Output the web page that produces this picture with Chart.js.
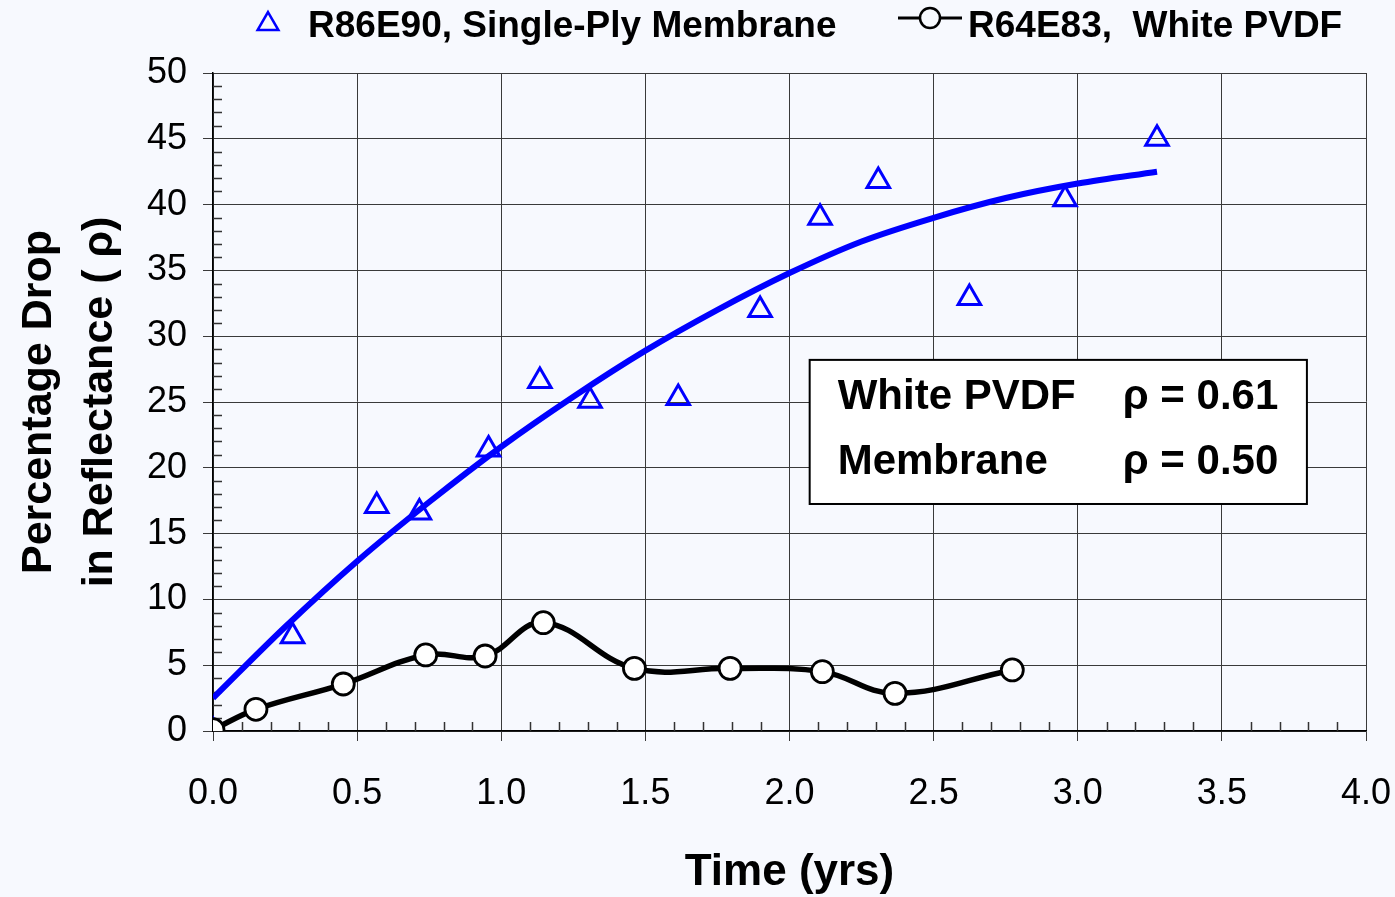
<!DOCTYPE html>
<html>
<head>
<meta charset="utf-8">
<title>Percentage Drop in Reflectance</title>
<script src="https://cdn.jsdelivr.net/npm/chart.js@4.4.1/dist/chart.umd.min.js"></script>
<style>
  html, body { margin: 0; padding: 0; background: #f7f9fe; }
  canvas { display: block; }
</style>
</head>
<body>
<canvas id="reflectance" width="1395" height="897"></canvas>
<script>
const FONT = "'Liberation Sans', Arial, Helvetica, sans-serif";

// R86E90 single-ply membrane (yrs, % drop)
const membraneYears = [0, 0.276, 0.568, 0.716, 0.956, 1.134, 1.308, 1.614, 1.898, 2.106, 2.308, 2.624, 2.956, 3.275];
const membraneDrop  = [0, 7.2, 17.1, 16.6, 21.4, 26.6, 25.1, 25.3, 32.0, 39.0, 41.8, 32.9, 40.4, 45.0];

// trend curve through the membrane readings
const fitYears = [0, 0.25, 0.5, 0.75, 1.0, 1.25, 1.5, 1.75, 2.0, 2.25, 2.5, 2.75, 3.0, 3.275];
const fitDrop  = [2.5, 7.9, 12.9, 17.4, 21.6, 25.4, 28.9, 32.0, 34.8, 37.2, 39.0, 40.5, 41.6, 42.5];

// R64E83 white PVDF
const pvdfYears = [0, 0.149, 0.452, 0.738, 0.944, 1.146, 1.462, 1.794, 2.114, 2.366, 2.773];
const pvdfDrop  = [0.1, 1.65, 3.57, 5.78, 5.70, 8.23, 4.76, 4.76, 4.51, 2.86, 4.64];

const xTicks = [0, 0.5, 1.0, 1.5, 2.0, 2.5, 3.0, 3.5, 4.0];
const yTicks = [0, 5, 10, 15, 20, 25, 30, 35, 40, 45, 50];

const legendNames = ['R86E90, Single-Ply Membrane', 'R64E83,  White PVDF'];
const boxRows = [['White PVDF', 'ρ = 0.61'], ['Membrane', 'ρ = 0.50']];

const toPoints = (xs, ys) => xs.map((x, i) => ({ x: x, y: ys[i] }));

// light page colour behind everything
const paper = {
  id: 'paper',
  beforeDraw(chart) {
    const ctx = chart.ctx;
    ctx.save();
    ctx.fillStyle = '#f7f9fe';
    ctx.fillRect(0, 0, chart.width, chart.height);
    ctx.restore();
  }
};

// small inward ticks: every 1 % on y, every 0.1 yr on x
const minorTicks = {
  id: 'minorTicks',
  beforeDatasetsDraw(chart) {
    const { ctx, chartArea: a, scales: { x, y } } = chart;
    ctx.save();
    ctx.strokeStyle = '#333';
    ctx.lineWidth = 1.5;
    ctx.beginPath();
    for (let v = 1; v < 50; v++) {
      if (v % 5 === 0) continue;
      const py = Math.round(y.getPixelForValue(v)) + 0.5;
      ctx.moveTo(a.left, py);
      ctx.lineTo(a.left + 9, py);
    }
    for (let k = 1; k < 40; k++) {
      if (k % 5 === 0) continue;
      const px = Math.round(x.getPixelForValue(k / 10)) + 0.5;
      ctx.moveTo(px, a.bottom);
      ctx.lineTo(px, a.bottom - 9);
    }
    ctx.stroke();
    ctx.restore();
  }
};

// correlation box inside the plot
const rhoBox = {
  id: 'rhoBox',
  afterDatasetsDraw(chart) {
    const { ctx, scales: { x, y } } = chart;
    const left = x.getPixelForValue(2.07), right = x.getPixelForValue(3.795);
    const top = y.getPixelForValue(28.2), bottom = y.getPixelForValue(17.25);
    ctx.save();
    ctx.fillStyle = '#ffffff';
    ctx.fillRect(left, top, right - left, bottom - top);
    ctx.strokeStyle = '#000';
    ctx.lineWidth = 2;
    ctx.strokeRect(left, top, right - left, bottom - top);
    ctx.fillStyle = '#000';
    ctx.font = 'bold 42px ' + FONT;
    ctx.textBaseline = 'middle';
    boxRows.forEach((row, i) => {
      const ty = top + 38 + i * 65;
      ctx.fillText(row[0], left + 28, ty);
      ctx.fillText(row[1], left + 313, ty);
    });
    ctx.restore();
  }
};

// legend row across the top
const topLegend = {
  id: 'topLegend',
  afterDraw(chart) {
    const ctx = chart.ctx;
    ctx.save();
    ctx.strokeStyle = '#0000ff';
    ctx.lineWidth = 2.5;
    ctx.fillStyle = 'rgba(0,0,0,0)';
    Chart.helpers.drawPoint(ctx, { pointStyle: 'triangle', radius: 12, borderWidth: 2.5, rotation: 0 }, 268, 24);

    ctx.strokeStyle = '#000';
    ctx.lineWidth = 3;
    ctx.beginPath();
    ctx.moveTo(898, 18);
    ctx.lineTo(962, 18);
    ctx.stroke();
    ctx.lineWidth = 2.5;
    ctx.fillStyle = '#f7f9fe';
    Chart.helpers.drawPoint(ctx, { pointStyle: 'circle', radius: 10, borderWidth: 2.5, rotation: 0 }, 930, 18);

    ctx.fillStyle = '#000';
    ctx.font = 'bold 37px ' + FONT;
    ctx.textBaseline = 'middle';
    ctx.fillText(legendNames[0], 308, 27);
    ctx.fillText(legendNames[1], 968, 27);
    ctx.restore();
  }
};

new Chart(document.getElementById('reflectance'), {
  type: 'scatter',
  data: {
    datasets: [
      {
        label: legendNames[0],
        data: toPoints(membraneYears, membraneDrop),
        pointStyle: 'triangle',
        pointRadius: 13,
        pointBorderWidth: 3,
        pointBorderColor: '#0000ff',
        pointBackgroundColor: 'rgba(0,0,0,0)',
        order: 1
      },
      {
        label: 'fit',
        data: toPoints(fitYears, fitDrop),
        showLine: true,
        borderColor: '#0000ff',
        borderWidth: 6,
        cubicInterpolationMode: 'monotone',
        pointRadius: 0,
        order: 2
      },
      {
        label: legendNames[1],
        data: toPoints(pvdfYears, pvdfDrop),
        showLine: true,
        borderColor: '#000',
        borderWidth: 5.5,
        tension: 0.4,
        pointStyle: 'circle',
        pointRadius: 11,
        pointBorderWidth: 2.8,
        pointBorderColor: '#000',
        pointBackgroundColor: '#ffffff',
        order: 0
      }
    ]
  },
  options: {
    responsive: false,
    animation: false,
    layout: { padding: { left: 0, top: 73, right: 29, bottom: 0 } },
    plugins: { legend: { display: false }, tooltip: { enabled: false } },
    scales: {
      x: {
        type: 'linear',
        min: 0,
        max: 4,
        afterBuildTicks: s => { s.ticks = xTicks.map(v => ({ value: v })); },
        afterFit: s => {
          s.height = 166;
          s.paddingLeft = 0;
          s.paddingRight = 0;
        },
        ticks: {
          color: '#000',
          font: { family: FONT, size: 36 },
          padding: 31,
          callback: v => Number(v).toFixed(1)
        },
        grid: { color: '#3a3a3a', lineWidth: 1, tickLength: 10 },
        border: { color: '#000', width: 1.5 },
        title: {
          display: true,
          text: 'Time (yrs)',
          color: '#000',
          font: { family: FONT, size: 44, weight: 'bold', lineHeight: 1.05 },
          padding: { top: 0, bottom: 1 }
        }
      },
      y: {
        type: 'linear',
        min: 0,
        max: 50,
        afterBuildTicks: s => { s.ticks = yTicks.map(v => ({ value: v })); },
        afterFit: s => { s.width = 213; },
        ticks: {
          color: '#000',
          font: { family: FONT, size: 36 },
          padding: 16
        },
        grid: { color: '#3a3a3a', lineWidth: 1, tickLength: 10 },
        border: { color: '#000', width: 1.5 },
        title: {
          display: true,
          text: ['Percentage Drop', 'in Reflectance ( ρ)'],
          color: '#000',
          font: { family: FONT, size: 43, weight: 'bold', lineHeight: 1.42 },
          padding: { top: 9, bottom: 0 }
        }
      }
    }
  },
  plugins: [paper, minorTicks, rhoBox, topLegend]
});
</script>
</body>
</html>
